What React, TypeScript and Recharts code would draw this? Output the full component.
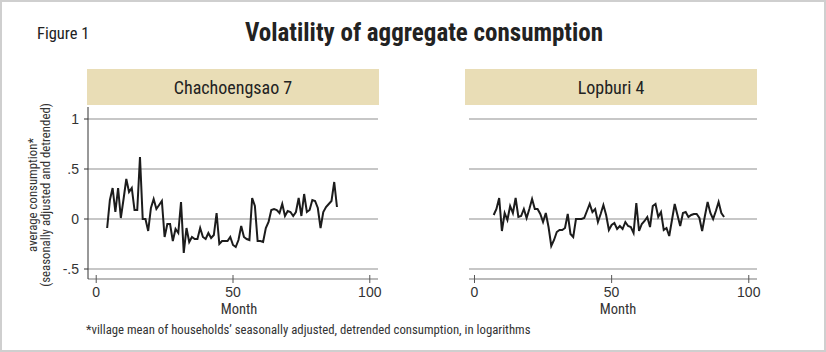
import React from "react";
import { LineChart, Line, XAxis, YAxis, ReferenceLine } from "recharts";

const chMonths = [4,5,6,7,8,9,10,11,12,13,14,15,16,17,18,19,20,21,22,23,24,25,26,27,28,29,30,31,32,33,34,35,36,37,38,39,40,41,42,43,44,45,46,47,48,49,50,51,52,53,54,55,56,57,58,59,60,61,62,63,64,65,66,67,68,69,70,71,72,73,74,75,76,77,78,79,80,81,82,83,84,85,86,87,88];
const chValues = [-0.09,0.19,0.31,0.07,0.31,0.01,0.2,0.4,0.27,0.31,0.09,0.09,0.62,0.0,0.0,-0.12,0.11,0.2,0.1,0.14,0.18,-0.18,-0.05,-0.05,-0.22,-0.1,-0.14,0.17,-0.34,-0.09,-0.23,-0.18,-0.2,-0.2,-0.09,-0.18,-0.2,-0.14,-0.19,-0.16,0.06,-0.25,-0.22,-0.22,-0.22,-0.18,-0.26,-0.28,-0.21,-0.07,-0.18,-0.2,-0.21,0.21,0.13,-0.22,-0.22,-0.23,-0.09,-0.03,0.09,0.1,0.09,0.06,0.15,0.03,0.08,0.07,0.03,0.07,0.21,0.03,0.25,0.07,0.09,0.19,0.18,0.11,-0.09,0.07,0.12,0.15,0.18,0.37,0.12];

const lbMonths = [7,8,9,10,11,12,13,14,15,16,17,18,19,20,21,22,23,24,25,26,27,28,29,30,31,32,33,34,35,36,37,38,39,40,41,42,43,44,45,46,47,48,49,50,51,52,53,54,55,56,57,58,59,60,61,62,63,64,65,66,67,68,69,70,71,72,73,74,75,76,77,78,79,80,81,82,83,84,85,86,87,88,89,90,91];
const lbValues = [0.04,0.1,0.21,-0.12,0.06,-0.01,0.13,0.06,0.21,0.02,0.03,0.1,0.01,0.1,0.2,0.1,0.1,0.05,-0.03,0.06,-0.08,-0.27,-0.21,-0.13,-0.11,-0.11,-0.09,0.05,-0.15,-0.18,0.0,0.0,0.0,0.01,0.08,0.15,0.07,0.1,-0.03,0.05,0.14,0.04,-0.11,-0.06,-0.04,-0.1,-0.07,-0.1,-0.03,-0.07,-0.08,-0.14,0.16,-0.12,-0.05,-0.02,0.02,-0.08,0.13,0.15,0.02,0.07,-0.11,-0.09,-0.17,-0.01,0.15,0.04,-0.07,0.06,0.07,0.02,0.04,0.05,0.05,0.01,-0.12,0.03,0.17,0.06,0.0,0.08,0.17,0.06,0.02];

const xTicks = [0, 50, 100];
const yTicks = [-0.5, 0, 0.5, 1];
const yTickLabels = ["-.5", "0", ".5", "1"];

const panelTitles = ["Chachoengsao 7", "Lopburi 4"];
const figureTitle = "Volatility of aggregate consumption";
const figureLabel = "Figure 1";
const yLabelLines = ["average consumption*", "(seasonally adjusted and detrended)"];
const xLabel = "Month";
const footnote = "*village mean of households\u2019 seasonally adjusted, detrended consumption, in logarithms";

const chData = chMonths.map((m, i) => ({ month: m, value: chValues[i] }));
const lbData = lbMonths.map((m, i) => ({ month: m, value: lbValues[i] }));

const NARROW = '"Roboto Condensed", "DejaVu Sans Condensed", sans-serif';
const REG = '"Liberation Sans", Arial, sans-serif';
const TAN = "#e9ddb6";
const GRID = "#b4b4b4";
const INK = "#222";

const fmtY = (v: number) => {
  const i = yTicks.indexOf(v);
  return i >= 0 ? yTickLabels[i] : String(v);
};

const XTick = (props: any) => {
  const { x, y, payload } = props;
  return (
    <g>
      <line x1={x} x2={x} y1={y - 4} y2={y + 4} stroke="#555" strokeWidth={1} />
      <text x={x} y={y + 18} textAnchor="middle" fontFamily={REG} fontSize={14} fill="#333">
        {payload.value}
      </text>
    </g>
  );
};

function Panel({ data, left, showY, marginLeft, plotRight, xDomain }: any) {
  return (
    <div style={{ position: "absolute", left, top: 0 }}>
      <LineChart
        width={400}
        height={352}
        data={data}
        margin={{ top: 107, right: 400 - (plotRight - left), bottom: 43, left: marginLeft }}
      >
        <XAxis
          dataKey="month"
          type="number"
          domain={xDomain}
          ticks={xTicks}
          tickSize={0}
          tickMargin={0}
          tick={<XTick />}
          axisLine={{ stroke: "#777", strokeWidth: 1.2 }}
          height={30}
          allowDataOverflow
        />
        <YAxis
          type="number"
          domain={[-0.6, 1.12]}
          ticks={yTicks}
          tickFormatter={fmtY}
          hide={!showY}
          width={30}
          tickSize={4}
          tickMargin={5}
          tick={{ fontFamily: REG, fontSize: 14, fill: "#333" }}
          axisLine={{ stroke: "#333", strokeWidth: 1 }}
          tickLine={{ stroke: "#333" }}
          allowDataOverflow
        />
        {yTicks.map((t) => (
          <ReferenceLine key={t} y={t} stroke={GRID} strokeWidth={1.3} ifOverflow="extendDomain" />
        ))}
        <Line
          type="linear"
          dataKey="value"
          stroke="#1c1c1c"
          strokeWidth={2}
          dot={false}
          isAnimationActive={false}
        />
      </LineChart>
    </div>
  );
}

export default function App() {
  return (
    <div
      style={{
        position: "absolute",
        left: 0,
        top: 0,
        width: 826,
        height: 352,
        boxSizing: "border-box",
        border: "2px solid #cfcfcf",
        background: "#fff",
        overflow: "hidden",
      }}
    >
      <div style={{ position: "absolute", left: -2, top: -2, width: 826, height: 352 }}>
        <div style={{ position: "absolute", left: 37, top: 24, fontFamily: NARROW, fontSize: 16.5, color: INK, lineHeight: "20px", whiteSpace: "nowrap" }}>
          {figureLabel}
        </div>
        <div
          style={{
            position: "absolute",
            left: 174,
            width: 500,
            top: 19,
            textAlign: "center",
            fontFamily: NARROW,
            fontWeight: "bold",
            fontSize: 25,
            color: INK,
            lineHeight: "28px",
            whiteSpace: "nowrap",
          }}
        >
          {figureTitle}
        </div>
        {[87, 465].map((bx, i) => (
          <div
            key={bx}
            style={{
              position: "absolute",
              left: bx,
              top: 69,
              width: 292,
              height: 36,
              background: TAN,
              display: "flex",
              alignItems: "center",
              justifyContent: "center",
              fontFamily: NARROW,
              fontSize: 18,
              color: INK,
            }}
          >
            {panelTitles[i]}
          </div>
        ))}
        <Panel data={chData} left={0} showY={true} marginLeft={58} plotRight={378} xDomain={[-3, 103]} />
        <Panel data={lbData} left={380} showY={false} marginLeft={89} plotRight={757} xDomain={[-2, 103]} />
        <div
          style={{
            position: "absolute",
            left: 40 - 110,
            top: 195 - 14,
            width: 220,
            height: 28,
            transform: "rotate(-90deg)",
            transformOrigin: "center",
            textAlign: "center",
            fontFamily: NARROW,
            fontSize: 12.8,
            lineHeight: "13px",
            color: "#333",
            whiteSpace: "nowrap",
          }}
        >
          <div>{yLabelLines[0]}</div>
          <div>{yLabelLines[1]}</div>
        </div>
        {[239, 618].map((cx) => (
          <div
            key={cx}
            style={{
              position: "absolute",
              left: cx - 50,
              width: 100,
              top: 302,
              textAlign: "center",
              fontFamily: NARROW,
              fontSize: 14.5,
              lineHeight: "16px",
              color: "#333",
            }}
          >
            {xLabel}
          </div>
        ))}
        <div
          style={{
            position: "absolute",
            left: 86,
            top: 322,
            fontFamily: NARROW,
            fontSize: 12.75,
            lineHeight: "15px",
            color: "#333",
            whiteSpace: "nowrap",
          }}
        >
          {footnote}
        </div>
      </div>
    </div>
  );
}
